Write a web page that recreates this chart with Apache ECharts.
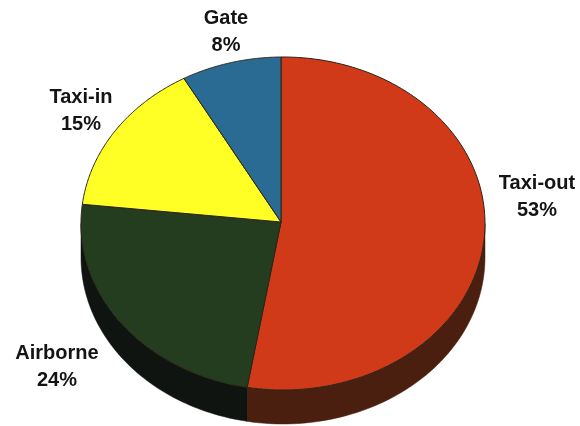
<!DOCTYPE html>
<html><head><meta charset="utf-8">
<style>html,body{margin:0;padding:0;background:#fff}#c{width:580px;height:426px;filter:blur(0.45px)}</style>
<script src="https://cdn.jsdelivr.net/npm/echarts@6/dist/echarts.min.js"></script>
</head><body><div id="c"></div>
<script>
var categories = ['Taxi-out','Airborne','Taxi-in','Gate'];
var shares = [53,24,15,8];
var topColors = ['#d03a18','#233d1e','#ffff26','#2a6b93'];
var sideColors = ['#4a1f0f','#0f1410','#5a5a10','#143040'];
var labelAnchors = [[537,197],[57,367],[81,111],[226,32]];

var CX=283, CY=223.5, RX=202, RY=166.5, DEPTH=34;
var APEX=[281,222], ROT=-0.01;
var total = shares.reduce(function(a,b){return a+b;},0);
function pt(a,dy){return [CX+RX*Math.sin(a), CY-RY*Math.cos(a)+(dy||0)];}

function renderItem(params, api){
  var i = params.dataIndex, before = 0;
  for (var k=0;k<i;k++) before += shares[k];
  var a0 = ROT+before/total*2*Math.PI, a1 = ROT+(before+api.value(0))/total*2*Math.PI;
  var children = [];
  var s = Math.max(a0, Math.PI/2), e = Math.min(a1, Math.PI*1.5);
  if (e > s){
    var top=[], bot=[];
    for (var t=0;t<=60;t++){
      var a = s+(e-s)*t/60;
      top.push(pt(a,0)); bot.unshift(pt(a,DEPTH));
    }
    children.push({type:'polygon',shape:{points:top.concat(bot)},
      style:{fill:sideColors[i],stroke:sideColors[i],lineWidth:0.5},z2:1});
  }
  var pts=[APEX];
  for (var t2=0;t2<=120;t2++) pts.push(pt(a0+(a1-a0)*t2/120));
  children.push({type:'polygon',shape:{points:pts},
    style:{fill:topColors[i],stroke:'#2a2418',lineWidth:1,lineJoin:'round'},z2:2});
  children.push({type:'text',z2:3,style:{
    x:labelAnchors[i][0],y:labelAnchors[i][1],
    text:categories[i]+'\n'+api.value(0)+'%',
    fill:'#141414',align:'center',verticalAlign:'middle',
    font:'bold 20px "Liberation Sans", Arial, sans-serif',lineHeight:26.5}});
  return {type:'group',children:children};
}

var chart = echarts.init(document.getElementById('c'),null,{renderer:'canvas'});
chart.setOption({
  animation:false,
  backgroundColor:'#ffffff',
  series:[{type:'custom',coordinateSystem:'none',renderItem:renderItem,
    data:shares.map(function(v,i){return {name:categories[i],value:[v]};}),
    silent:true}]
});
</script></body></html>
